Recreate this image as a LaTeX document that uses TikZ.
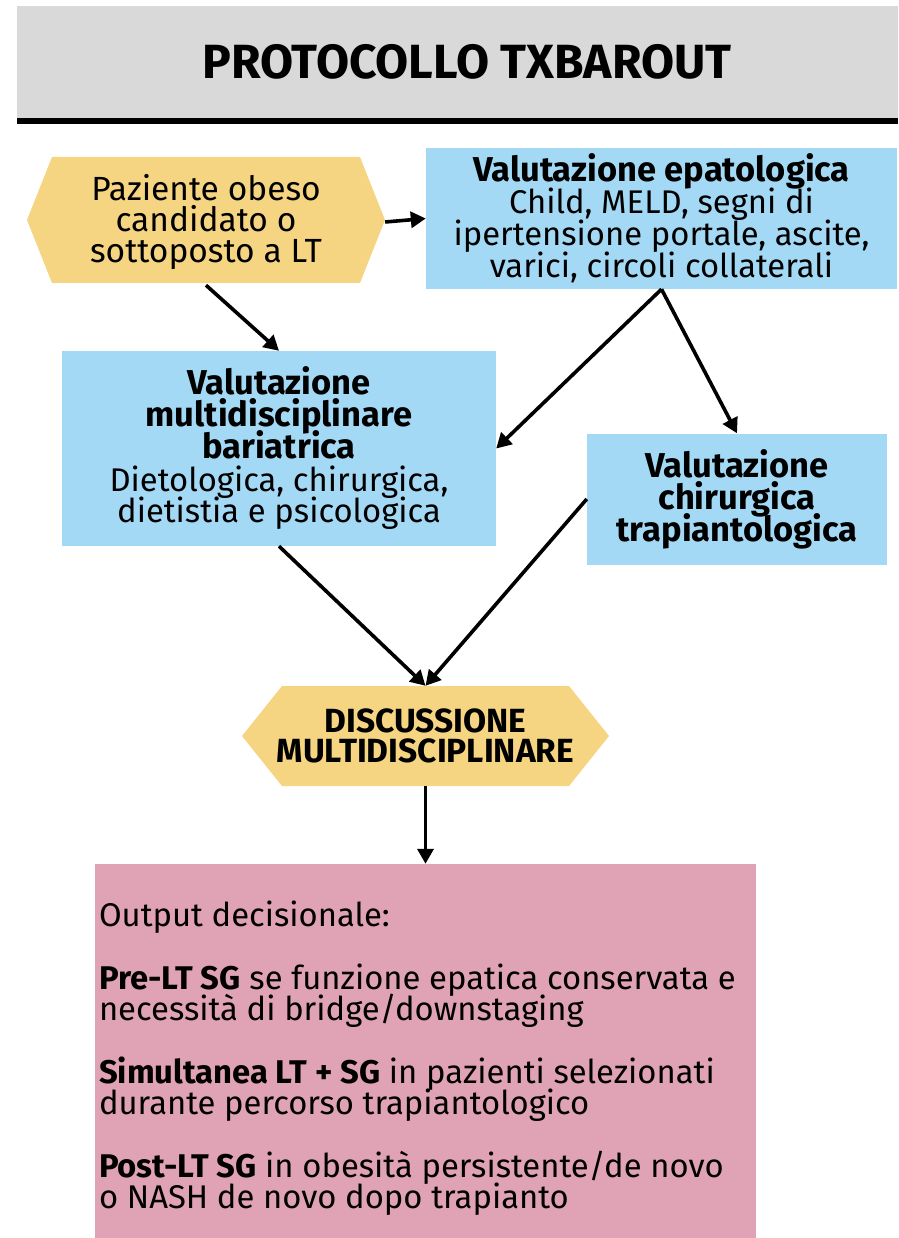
\documentclass[tikz,border=0pt]{standalone}
\usepackage{fontspec}
\setmainfont{Fira Sans}
\usetikzlibrary{arrows.meta}
\definecolor{hexyel}{RGB}{245,212,130}
\definecolor{boxblue}{RGB}{163,217,245}
\definecolor{boxpink}{RGB}{224,162,181}
\definecolor{bandgrey}{RGB}{217,217,217}
\lineskiplimit=-60pt
\newcommand{\bl}[1]{{\fontsize{34.5}{32}\selectfont\bfseries #1}}
\begin{document}
\begin{tikzpicture}[x=1pt,y=-1pt,
  bluebox/.style={fill=boxblue, inner sep=0pt, align=center, font=\fontsize{32.8}{32}\selectfont},
  hexnode/.style={inner sep=0pt, align=center},
  conn/.style={line width=3.6pt, -{Triangle[length=15pt,width=16pt]}},
]
\useasboundingbox (0,0) rectangle (898,1238);
% header band
\fill[bandgrey] (17,6) rectangle (898,118);
\fill[black] (17,118) rectangle (898,124);
\node[inner sep=0pt, font=\fontsize{48}{52}\selectfont\bfseries] (title) at (467,62) {PROTOCOLLO TXBAROUT};

% hexagon 1
\fill[hexyel] (27,220) -- (52,157) -- (360,157) -- (385,220) -- (360,283) -- (52,283) -- cycle;
\node[hexnode, minimum width=358pt, minimum height=126pt, font=\fontsize{33.5}{31}\selectfont] (pat) at (206,222)
  {Paziente obeso\\candidato o\\sottoposto a LT};

% blue boxes
\node[bluebox, minimum width=471pt, minimum height=141pt] (epa) at (661.5,218.5)
  {\bl{Valutazione epatologica}\\Child, MELD, segni di\\ipertensione portale, ascite,\\varici, circoli collaterali};
\node[bluebox, minimum width=434pt, minimum height=195pt] (bar) at (279,448.5)
  {\bl{Valutazione}\\\bl{multidisciplinare}\\\bl{bariatrica}\\Dietologica, chirurgica,\\dietistia e psicologica};
\node[bluebox, minimum width=300pt, minimum height=131pt] (chir) at (737,499)
  {\bl{Valutazione}\\\bl{chirurgica}\\\bl{trapiantologica}};

% hexagon 2
\fill[hexyel] (242,736) -- (282,686) -- (569,686) -- (609,736) -- (569,786) -- (282,786) -- cycle;
\node[hexnode, minimum width=367pt, minimum height=100pt, font=\fontsize{33.5}{30.5}\selectfont\bfseries] (disc) at (425.5,736)
  {DISCUSSIONE\\MULTIDISCIPLINARE};

% output box
\node[fill=boxpink, minimum width=661pt, minimum height=374pt, inner sep=0pt] (out) at (425.5,1051) {};
\node[anchor=west, inner sep=0pt, align=left, font=\fontsize{32.8}{31}\selectfont] (outtext) at ([xshift=4pt,yshift=-7pt]out.west)
  {Output decisionale:\\[32pt]
   \textbf{Pre-LT SG} se funzione epatica conservata e\\necessità di bridge/downstaging\\[32pt]
   \textbf{Simultanea LT + SG} in pazienti selezionati\\durante percorso trapiantologico\\[32pt]
   \textbf{Post-LT SG} in obesità persistente/de novo\\o NASH de novo dopo trapianto};

% connectors
\draw[conn] (pat.east) -- (epa.west);
\draw[conn] (pat.south) -- (bar.north);
\draw[conn] (epa.south) -- (bar.east);
\draw[conn] (epa.south) -- (chir.north);
\draw[conn] (bar.south) -- (disc.north);
\draw[conn] (chir.west) -- (disc.north);
\draw[conn] (disc.south) -- (out.north);
\end{tikzpicture}
\end{document}
